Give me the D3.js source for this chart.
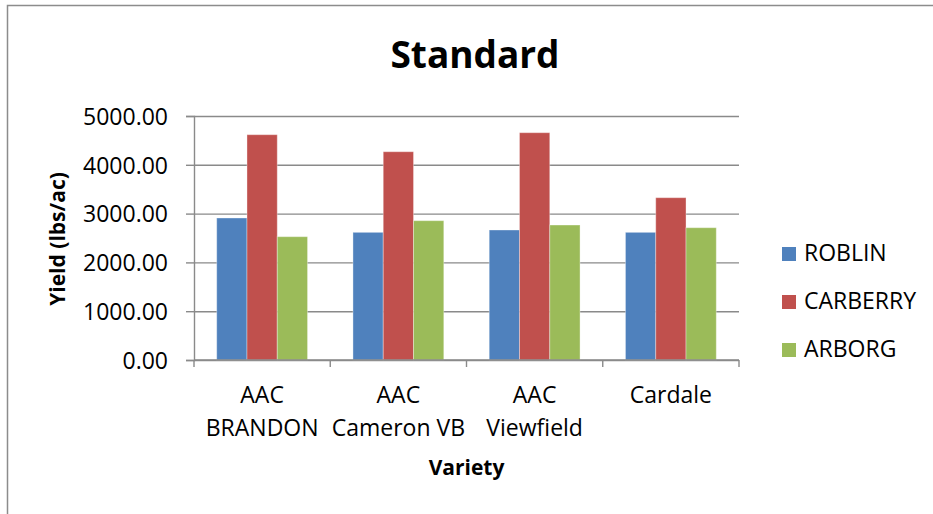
<!DOCTYPE html>
<html>
<head>
<meta charset="utf-8">
<script src="https://cdn.jsdelivr.net/npm/d3@7"></script>
<style>
  html, body { margin: 0; padding: 0; background: #fff; }
  svg text { font-family: "Open Sans", "Noto Sans", sans-serif; fill: #000; }
</style>
</head>
<body>
<svg id="chart" width="933" height="514"></svg>
<script>
// ---- data ----
const categories = ["AAC BRANDON", "AAC Cameron VB", "AAC Viewfield", "Cardale"];
const categoryLines = [["AAC", "BRANDON"], ["AAC", "Cameron VB"], ["AAC", "Viewfield"], ["Cardale"]];
const seriesNames = ["ROBLIN", "CARBERRY", "ARBORG"];
const roblin   = [2910, 2616, 2664, 2616];
const carberry = [4617, 4268, 4658, 3326];
const arborg   = [2527, 2855, 2766, 2711];
const yTicks = [0, 1000, 2000, 3000, 4000, 5000];
const colors = ["#4F81BD", "#C0504D", "#9BBB59"];
const titleText = "Standard";
const xTitle = "Variety";
const yTitle = "Yield (lbs/ac)";

const seriesValues = [roblin, carberry, arborg];

// ---- layout ----
const svg = d3.select("#chart");
const plot = { left: 194, right: 739, top: 116, bottom: 360 };
const gridColor = "#8a8a8a";

// chart frame
svg.append("rect")
  .attr("x", 7.5).attr("y", 5.5)
  .attr("width", 960).attr("height", 540)
  .attr("fill", "none").attr("stroke", "#8c8c8c").attr("stroke-width", 1.5);

const x = d3.scaleBand().domain(categories).range([plot.left, plot.right]).padding(0);
const step = x.step();
const xs = d3.scaleBand().domain(seriesNames).range([step / 6, step * 5 / 6]).padding(0);
const y = d3.scaleLinear().domain([0, 5000]).range([plot.bottom, plot.top]);

// gridlines
svg.append("g")
  .attr("transform", `translate(${plot.left},0)`)
  .call(d3.axisLeft(y).tickValues(yTicks).tickSize(-(plot.right - plot.left)).tickFormat(""))
  .call(g => g.select(".domain").remove())
  .call(g => g.selectAll("line").attr("stroke", gridColor).attr("stroke-width", 1.4));

// bars
const groups = svg.append("g").selectAll("g")
  .data(categories)
  .join("g")
  .attr("transform", d => `translate(${x(d)},0)`);

groups.selectAll("rect")
  .data((c, i) => seriesNames.map((s, j) => ({ s, j, v: seriesValues[j][i] })))
  .join("rect")
  .attr("x", d => xs(d.s))
  .attr("width", xs.bandwidth())
  .attr("y", d => y(d.v))
  .attr("height", d => y(0) - y(d.v))
  .attr("fill", d => colors[d.j])
  .attr("stroke", "rgba(255,255,255,0.35)")
  .attr("stroke-width", 1);

// y axis
const yAxis = svg.append("g")
  .attr("transform", `translate(${plot.left},0)`)
  .call(d3.axisLeft(y).tickValues(yTicks).tickSize(8).tickPadding(18).tickFormat(d3.format(".2f")));
yAxis.select(".domain").attr("stroke", gridColor).attr("stroke-width", 1.4);
yAxis.selectAll(".tick line").attr("stroke", gridColor).attr("stroke-width", 1.4);
yAxis.selectAll(".tick text")
  .style("font-family", "'Open Sans', sans-serif")
  .style("font-size", "23px")
  .attr("fill", "#000")
  .attr("dy", "0.36em");

// x axis line and category boundary ticks
const xg = svg.append("g");
xg.append("line")
  .attr("x1", plot.left).attr("x2", plot.right)
  .attr("y1", y(0)).attr("y2", y(0))
  .attr("stroke", gridColor).attr("stroke-width", 1.4);
const bounds = categories.map(c => x(c)).concat([x(categories[categories.length - 1]) + step]);
xg.selectAll("line.tick")
  .data(bounds)
  .join("line")
  .attr("class", "tick")
  .attr("x1", d => d).attr("x2", d => d)
  .attr("y1", y(0)).attr("y2", y(0) + 7)
  .attr("stroke", gridColor).attr("stroke-width", 1.4);

// x category labels
const xl = svg.append("g").selectAll("text")
  .data(categories)
  .join("text")
  .attr("x", d => x(d) + step / 2)
  .attr("y", 403)
  .attr("text-anchor", "middle")
  .style("font-size", "23px");
xl.selectAll("tspan")
  .data((d, i) => categoryLines[i])
  .join("tspan")
  .attr("x", function () { return d3.select(this.parentNode).attr("x"); })
  .attr("dy", (d, i) => i === 0 ? 0 : 32.5)
  .text(d => d);

// title
svg.append("text")
  .attr("x", 475).attr("y", 68)
  .attr("text-anchor", "middle")
  .style("font-size", "37px").style("font-weight", "bold")
  .text(titleText);

// axis titles
svg.append("text")
  .attr("x", (plot.left + plot.right) / 2).attr("y", 475)
  .attr("text-anchor", "middle")
  .style("font-size", "21px").style("font-weight", "bold")
  .text(xTitle);

svg.append("text")
  .attr("transform", "translate(65,239) rotate(-90)")
  .attr("text-anchor", "middle")
  .style("font-size", "21px").style("font-weight", "bold")
  .text(yTitle);

// legend
const legend = svg.append("g").selectAll("g")
  .data(seriesNames)
  .join("g")
  .attr("transform", (d, i) => `translate(782,${254 + i * 48})`);
legend.append("rect")
  .attr("x", 0).attr("y", -7)
  .attr("width", 14).attr("height", 14)
  .attr("fill", (d, i) => colors[i]);
legend.append("text")
  .attr("x", 22).attr("y", 7)
  .style("font-size", "23px")
  .text(d => d);
</script>
</body>
</html>
